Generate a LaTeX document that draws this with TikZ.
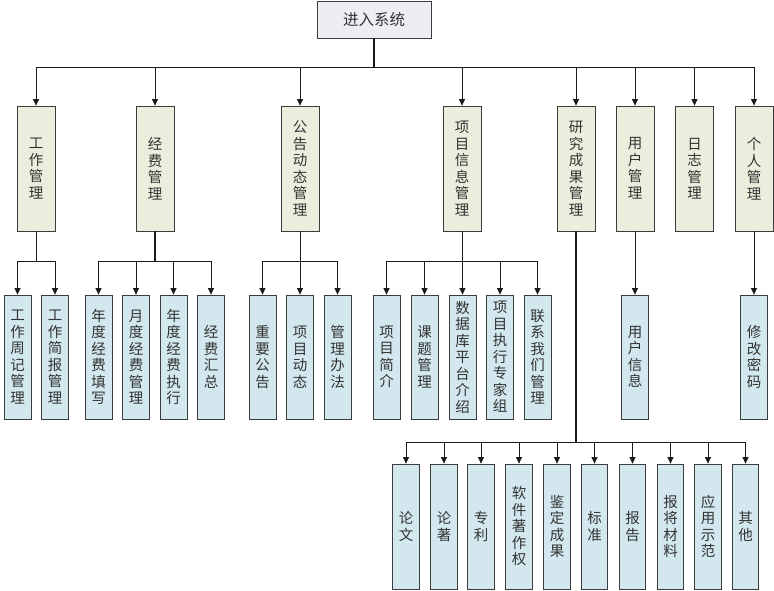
\documentclass[tikz,border=0pt]{standalone}
\usepackage{fontspec}
\newfontfamily\cjk{Noto Sans CJK SC}
\usetikzlibrary{arrows.meta}
\definecolor{topfill}{HTML}{EEEDF4}
\definecolor{onefill}{HTML}{EBEEDC}
\definecolor{twofill}{HTML}{D2E8EE}
\definecolor{linec}{HTML}{1A1A1A}
\definecolor{borderc}{HTML}{3C3C3C}
\definecolor{textc}{HTML}{333333}
\begin{document}
\begin{tikzpicture}[x=1pt,y=-1pt,
  box/.style={draw=borderc, line width=0.8pt, inner sep=0pt, align=center,
    font=\cjk\fontsize{14.5}{16.5}\selectfont, text=textc},
  topbox/.style={box, fill=topfill, minimum width=114pt, minimum height=37pt,
    font=\cjk\fontsize{15.5}{18}\selectfont},
  lone/.style={box, fill=onefill, minimum width=38pt, minimum height=125pt},
  ltwo/.style={box, fill=twofill, minimum width=27pt, minimum height=124pt},
  lthree/.style={box, fill=twofill, minimum width=26.5pt, minimum height=125pt},
  conn/.style={draw=linec, line width=0.8pt},
  stem/.style={draw=linec, line width=1.6pt},
  arr/.style={conn, -{Triangle[length=6.5pt,width=6pt]}},
]
\fill[white] (0,0) rectangle (774,590);
\useasboundingbox (0,0) rectangle (774,590);

% top
\node[topbox] (top) at (374,19.5) {进入系统};

% level 1
\node[lone] (a1) at (36,168.5)  {工\\作\\管\\理};
\node[lone] (a2) at (155,168.5) {经\\费\\管\\理};
\node[lone] (a3) at (300,168.5) {公\\告\\动\\态\\管\\理};
\node[lone] (a4) at (462,168.5) {项\\目\\信\\息\\管\\理};
\node[lone] (a5) at (576,168.5) {研\\究\\成\\果\\管\\理};
\node[lone] (a6) at (635,168.5) {用\\户\\管\\理};
\node[lone] (a7) at (694.5,168.5) {日\\志\\管\\理};
\node[lone] (a8) at (754,168.5) {个\\人\\管\\理};

% level 2
\node[ltwo] (b1)  at (17.5,357)  {工\\作\\周\\记\\管\\理};
\node[ltwo] (b2)  at (55,357)    {工\\作\\简\\报\\管\\理};
\node[ltwo] (b3)  at (98.5,357)  {年\\度\\经\\费\\填\\写};
\node[ltwo] (b4)  at (136,357)   {月\\度\\经\\费\\管\\理};
\node[ltwo] (b5)  at (173.5,357) {年\\度\\经\\费\\执\\行};
\node[ltwo] (b6)  at (211,357)   {经\\费\\汇\\总};
\node[ltwo] (b7)  at (262.5,357) {重\\要\\公\\告};
\node[ltwo] (b8)  at (300,357)   {项\\目\\动\\态};
\node[ltwo] (b9)  at (337.5,357) {管\\理\\办\\法};
\node[ltwo] (b10) at (386.5,357) {项\\目\\简\\介};
\node[ltwo] (b11) at (424.5,357) {课\\题\\管\\理};
\node[ltwo] (b12) at (462.5,357) {数\\据\\库\\平\\台\\介\\绍};
\node[ltwo] (b13) at (500,357)   {项\\目\\执\\行\\专\\家\\组};
\node[ltwo] (b14) at (537.5,357) {联\\系\\我\\们\\管\\理};
\node[ltwo] (b15) at (635,357)   {用\\户\\信\\息};
\node[ltwo] (b16) at (754,357)   {修\\改\\密\\码};

% level 3
\node[lthree] (c1)  at (406,526.5)   {论\\文};
\node[lthree] (c2)  at (444,526.5)   {论\\著};
\node[lthree] (c3)  at (481,526.5)   {专\\利};
\node[lthree] (c4)  at (519,526.5)   {软\\件\\著\\作\\权};
\node[lthree] (c5)  at (557,526.5)   {鉴\\定\\成\\果};
\node[lthree] (c6)  at (594.5,526.5) {标\\准};
\node[lthree] (c7)  at (632.5,526.5) {报\\告};
\node[lthree] (c8)  at (670.5,526.5) {报\\将\\材\\料};
\node[lthree] (c9)  at (708,526.5)   {应\\用\\示\\范};
\node[lthree] (c10) at (745.5,526.5) {其\\他};

% bus levels
\coordinate (busA) at (374,67);
\coordinate (busB) at (0,261);
\coordinate (busC) at (0,442);

% top to level 1
\draw[stem] (top.south) -- (busA);
\draw[conn] (a1.north |- busA) -- (a8.north |- busA);
\foreach \n in {a1,a2,a3,a4,a5,a6,a7,a8}
  \draw[arr] (\n.north |- busA) -- (\n.north);

% 工作管理
\draw[conn] (a1.south) -- (a1.south |- busB);
\draw[conn] (b1.north |- busB) -- (b2.north |- busB);
\foreach \n in {b1,b2} \draw[arr] (\n.north |- busB) -- (\n.north);

% 经费管理
\draw[stem] (a2.south) -- (a2.south |- busB);
\draw[conn] (b3.north |- busB) -- (b6.north |- busB);
\foreach \n in {b3,b4,b5,b6} \draw[arr] (\n.north |- busB) -- (\n.north);

% 公告动态管理
\draw[conn] (a3.south) -- (a3.south |- busB);
\draw[conn] (b7.north |- busB) -- (b9.north |- busB);
\foreach \n in {b7,b8,b9} \draw[arr] (\n.north |- busB) -- (\n.north);

% 项目信息管理
\draw[conn] (a4.south) -- (a4.south |- busB);
\draw[conn] (b10.north |- busB) -- (b14.north |- busB);
\foreach \n in {b10,b11,b12,b13,b14} \draw[arr] (\n.north |- busB) -- (\n.north);

% 用户管理, 个人管理
\draw[arr] (a6.south) -- (b15.north);
\draw[arr] (a8.south) -- (b16.north);

% 研究成果管理
\draw[stem] (a5.south) -- (a5.south |- busC);
\draw[conn] (c1.north |- busC) -- (c10.north |- busC);
\foreach \n in {c1,c2,c3,c4,c5,c6,c7,c8,c9,c10} \draw[arr] (\n.north |- busC) -- (\n.north);
\end{tikzpicture}
\end{document}
